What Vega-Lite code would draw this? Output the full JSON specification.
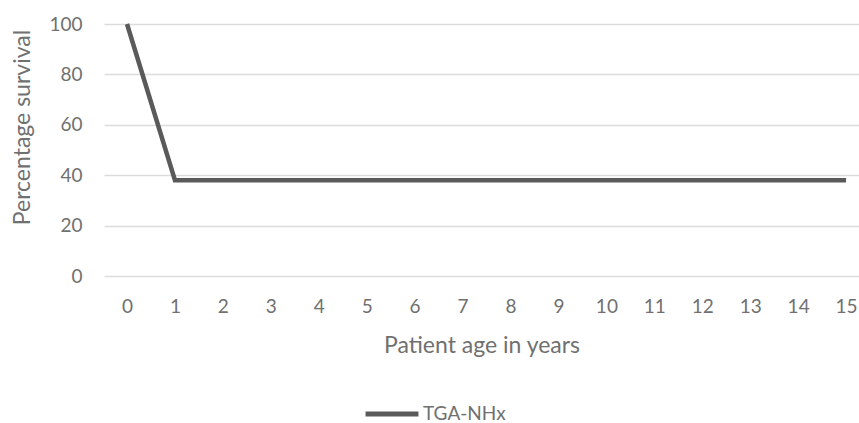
{
  "$schema": "https://vega.github.io/schema/vega-lite/v6.json",
  "width": 755,
  "height": 252,
  "autosize": {"type": "none"},
  "padding": {"left": 104, "top": 24, "right": 0, "bottom": 147},
  "background": "white",
  "config": {
    "view": {"stroke": null},
    "font": "Lato"
  },
  "data": {
    "values": [
      {"age": 0, "survival": 100, "series": "TGA-NHx"},
      {"age": 1, "survival": 38, "series": "TGA-NHx"},
      {"age": 2, "survival": 38, "series": "TGA-NHx"},
      {"age": 3, "survival": 38, "series": "TGA-NHx"},
      {"age": 4, "survival": 38, "series": "TGA-NHx"},
      {"age": 5, "survival": 38, "series": "TGA-NHx"},
      {"age": 6, "survival": 38, "series": "TGA-NHx"},
      {"age": 7, "survival": 38, "series": "TGA-NHx"},
      {"age": 8, "survival": 38, "series": "TGA-NHx"},
      {"age": 9, "survival": 38, "series": "TGA-NHx"},
      {"age": 10, "survival": 38, "series": "TGA-NHx"},
      {"age": 11, "survival": 38, "series": "TGA-NHx"},
      {"age": 12, "survival": 38, "series": "TGA-NHx"},
      {"age": 13, "survival": 38, "series": "TGA-NHx"},
      {"age": 14, "survival": 38, "series": "TGA-NHx"},
      {"age": 15, "survival": 38, "series": "TGA-NHx"}
    ]
  },
  "mark": {"type": "line", "strokeWidth": 4.5, "strokeCap": "butt"},
  "encoding": {
    "x": {
      "field": "age",
      "type": "quantitative",
      "title": "Patient age in years",
      "scale": {"domain": [-0.48, 15.27], "nice": false, "zero": false},
      "axis": {
        "values": [0, 1, 2, 3, 4, 5, 6, 7, 8, 9, 10, 11, 12, 13, 14, 15],
        "grid": false,
        "domain": false,
        "ticks": false,
        "labelFontSize": 19,
        "labelColor": "#707070",
        "labelPadding": 21,
        "titleFontSize": 23,
        "titleFontWeight": "normal",
        "titleColor": "#707070",
        "titlePadding": 18
      }
    },
    "y": {
      "field": "survival",
      "type": "quantitative",
      "title": "Percentage survival",
      "scale": {"domain": [0, 100], "nice": false},
      "axis": {
        "values": [0, 20, 40, 60, 80, 100],
        "gridColor": "#dcdcdc",
        "gridWidth": 1.5,
        "domain": false,
        "ticks": false,
        "labelFontSize": 19,
        "labelColor": "#707070",
        "labelPadding": 22,
        "titleFontSize": 23,
        "titleFontWeight": "normal",
        "titleColor": "#707070",
        "titlePadding": 14,
        "titleY": 103
      }
    },
    "color": {
      "field": "series",
      "type": "nominal",
      "scale": {"range": ["#5a5a5a"]},
      "legend": {
        "title": null,
        "orient": "none",
        "legendX": 259,
        "legendY": 361,
        "symbolType": "stroke",
        "symbolSize": 2800,
        "symbolStrokeWidth": 5,
        "symbolStrokeColor": "#5a5a5a",
        "labelFontSize": 19,
        "labelColor": "#707070",
        "labelOffset": 2
      }
    }
  }
}
